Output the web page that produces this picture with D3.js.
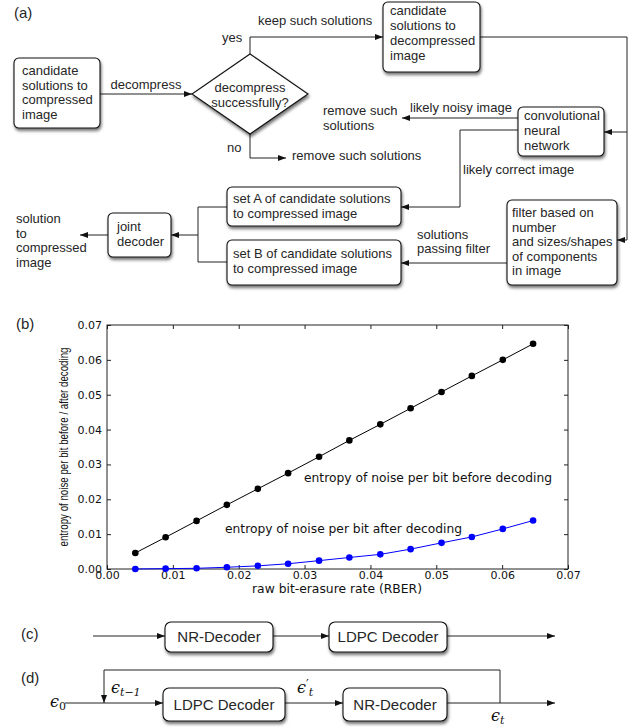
<!DOCTYPE html>
<html><head><meta charset="utf-8">
<script src="https://cdn.jsdelivr.net/npm/d3@7"></script>
<style>
body{margin:0;background:#fff;}
svg{display:block;}
.ft{font-family:"Liberation Sans",Arial,Helvetica,sans-serif;fill:#262626;}
.pt{font-family:"DejaVu Sans",sans-serif;fill:#111;}
</style></head>
<body>
<svg id="c" width="636" height="727"></svg>
<script>
// ---------------- data (panel b) ----------------
const rber = [0.0043,0.0089,0.0136,0.0182,0.0229,0.0275,0.0322,0.0368,0.0415,0.0461,0.0508,0.0554,0.0601,0.0647];
const entropyBefore = [0.0046,0.0091,0.0138,0.0184,0.0230,0.0275,0.0322,0.0369,0.0415,0.0461,0.0508,0.0554,0.0600,0.0646];
const entropyAfter = [0.0000,0.0001,0.0002,0.0005,0.0009,0.0015,0.0024,0.0033,0.0042,0.0057,0.0075,0.0092,0.0115,0.0139];
const xTicks = [0.00,0.01,0.02,0.03,0.04,0.05,0.06,0.07];
const yTicks = [0.00,0.01,0.02,0.03,0.04,0.05,0.06,0.07];
const xLabel = "raw bit-erasure rate (RBER)";
const yLabel = "entropy of noise per bit before / after decoding";
const annBefore = "entropy of noise per bit before decoding";
const annAfter = "entropy of noise per bit after decoding";

// ---------------- flowchart text (panel a) ----------------
const boxesA = [
  {x:14,y:58,w:86,h:70,tx:22,ty:[75,89.5,104,118.5],lines:["candidate","solutions to","compressed","image"]},
  {x:383,y:2,w:97,h:70,tx:390,ty:[15,30,45,60],lines:["candidate","solutions to","decompressed","image"]},
  {x:518,y:107,w:86,h:49,tx:524,ty:[120,135,150],lines:["convolutional","neural","network"]},
  {x:507,y:200,w:110,h:85,tx:512,ty:[217,231.5,246,260.5,275],lines:["filter based on","number","and sizes/shapes","of components","in image"]},
  {x:227,y:187,w:174,h:39,tx:233,ty:[203,218],lines:["set A of candidate solutions","to compressed image"]},
  {x:227,y:240,w:174,h:45,tx:233,ty:[258,273],lines:["set B of candidate solutions","to compressed image"]},
  {x:108,y:213,w:63,h:44,tx:117,ty:[231,246],lines:["joint","decoder"]}
];
const labelsA = [
  {x:14,y:18,t:"(a)",s:15},
  {x:146,y:89,t:"decompress",a:"middle"},
  {x:222,y:42,t:"yes"},
  {x:258,y:25,t:"keep such solutions"},
  {x:227,y:152,t:"no"},
  {x:292,y:160,t:"remove such solutions"},
  {x:323,y:115,t:"remove such"},
  {x:323,y:130,t:"solutions"},
  {x:410,y:112,t:"likely noisy image"},
  {x:463,y:174,t:"likely correct image"},
  {x:417,y:239,t:"solutions"},
  {x:417,y:253,t:"passing filter"},
  {x:16,y:223,t:"solution"},
  {x:16,y:237.5,t:"to"},
  {x:16,y:252,t:"compressed"},
  {x:16,y:266.5,t:"image"},
  {x:250,y:92,t:"decompress",a:"middle"},
  {x:250,y:107,t:"successfully?",a:"middle"},
  {x:16,y:329,t:"(b)",s:15},
  {x:21,y:639,t:"(c)",s:15},
  {x:21,y:683,t:"(d)",s:15}
];
const linksA = [
  {p:[[100,94],[192,94]],arrow:true},
  {p:[[250,54],[250,37],[383,37]],arrow:true},
  {p:[[480,37],[627,37],[627,240],[617,240]],arrow:true},
  {p:[[627,132],[604,132]],arrow:true},
  {p:[[250,134],[250,158],[286,158]],arrow:true},
  {p:[[518,118],[402,118]],arrow:true},
  {p:[[518,130],[460,130],[460,207],[401,207]],arrow:true},
  {p:[[507,263],[401,263]],arrow:true},
  {p:[[227,207],[198,207],[198,262],[227,262]],arrow:false},
  {p:[[198,235],[171,235]],arrow:true},
  {p:[[108,235],[80,235]],arrow:true},
  // panel c
  {p:[[93,636],[165,636]],arrow:true},
  {p:[[273,636],[329,636]],arrow:true},
  {p:[[447,636],[555,636]],arrow:true},
  // panel d
  {p:[[65,703],[163,703]],arrow:true},
  {p:[[500,703],[500,670],[104,670],[104,703]],arrow:true},
  {p:[[285,703],[343,703]],arrow:true},
  {p:[[447,703],[555,703]],arrow:true}
];
const boxesCD = [
  {x:165,y:622,w:108,h:30,t:"NR-Decoder",ty:642},
  {x:329,y:622,w:118,h:30,t:"LDPC Decoder",ty:642},
  {x:163,y:688,w:122,h:33,t:"LDPC Decoder",ty:710},
  {x:343,y:688,w:104,h:33,t:"NR-Decoder",ty:710}
];
const mathLabels = [
  {x:50,y:707,sub:"0",prime:false},
  {x:111,y:693,sub:"t−1",prime:false},
  {x:297,y:693,sub:"t",prime:true},
  {x:491,y:721,sub:"t",prime:false}
];

const svg = d3.select("#c");
const defs = svg.append("defs");
const f = defs.append("filter").attr("id","sh").attr("x","-20%").attr("y","-20%").attr("width","150%").attr("height","160%");
f.append("feDropShadow").attr("dx",1).attr("dy",2.5).attr("stdDeviation",1.6).attr("flood-color","#000").attr("flood-opacity",0.55);
defs.append("marker").attr("id","ar").attr("markerUnits","userSpaceOnUse")
  .attr("markerWidth",9).attr("markerHeight",7).attr("refX",8).attr("refY",3).attr("orient","auto")
  .append("path").attr("d","M0,0 L8,3 L0,6 Z").attr("fill","#111");

// connectors
const line = d3.line();
svg.append("g").selectAll("path").data(linksA).join("path")
  .attr("d",d=>line(d.p)).attr("fill","none").attr("stroke","#222").attr("stroke-width",1)
  .attr("marker-end",d=>d.arrow?"url(#ar)":null);

// diamond
const dc = {x:250,y:94,hw:58,hh:40};
svg.append("path").attr("d",`M${dc.x-dc.hw},${dc.y} L${dc.x},${dc.y-dc.hh} L${dc.x+dc.hw},${dc.y} L${dc.x},${dc.y+dc.hh} Z`)
  .attr("fill","#fff").attr("stroke","#111").attr("stroke-width",1.1).attr("filter","url(#sh)");

// boxes panel a
const gb = svg.append("g").selectAll("g").data(boxesA).join("g");
gb.append("rect").attr("x",d=>d.x).attr("y",d=>d.y).attr("width",d=>d.w).attr("height",d=>d.h)
  .attr("rx",5).attr("fill","#fff").attr("stroke","#111").attr("stroke-width",1.1).attr("filter","url(#sh)");
gb.each(function(d){
  const g=d3.select(this);
  d.lines.forEach((l,i)=>g.append("text").attr("class","ft").attr("x",d.tx).attr("y",d.ty[i]).attr("font-size",13).text(l));
});
svg.append("g").selectAll("text").data(labelsA).join("text").attr("class","ft")
  .attr("x",d=>d.x).attr("y",d=>d.y).attr("font-size",d=>d.s||13).attr("text-anchor",d=>d.a||"start").text(d=>d.t);

// boxes c,d
const gc = svg.append("g").selectAll("g").data(boxesCD).join("g");
gc.append("rect").attr("x",d=>d.x).attr("y",d=>d.y).attr("width",d=>d.w).attr("height",d=>d.h)
  .attr("rx",6).attr("fill","#fff").attr("stroke","#111").attr("stroke-width",1.1).attr("filter","url(#sh)");
gc.append("text").attr("class","ft").attr("x",d=>d.x+d.w/2).attr("y",d=>d.ty).attr("text-anchor","middle")
  .attr("font-size",15).text(d=>d.t);

// math labels (one text element each)
const mt = svg.append("g").selectAll("text").data(mathLabels).join("text")
  .attr("x",d=>d.x).attr("y",d=>d.y).attr("font-family","DejaVu Serif, serif").attr("fill","#111");
mt.append("tspan").attr("font-style","italic").attr("font-size",16).text("ϵ");
mt.each(function(d){
  const t=d3.select(this);
  if(d.prime){
    t.append("tspan").attr("font-size",12).attr("y",d.y-4).text("′");
    t.append("tspan").attr("font-size",11).attr("font-style","italic").attr("y",d.y+3).text(d.sub);
  } else {
    t.append("tspan").attr("font-size",11).attr("font-style",d.sub==="0"?"normal":"italic").attr("y",d.y+3).text(d.sub);
  }
});

// ---------------- panel b plot ----------------
const m = {l:107,r:568,t:325,b:569};
const x = d3.scaleLinear().domain([0,0.07]).range([m.l,m.r]);
const y = d3.scaleLinear().domain([0,0.07]).range([m.b,m.t]);
const fmt = d3.format(".2f");
const pg = svg.append("g");
pg.append("g").attr("transform",`translate(0,${m.b})`)
  .call(d3.axisBottom(x).tickValues(xTicks).tickFormat(fmt).tickSize(-4).tickPadding(2))
  .call(g=>{g.select(".domain").remove();g.selectAll("text").attr("class","pt").attr("font-size",11).attr("fill","#111");});
pg.append("g").attr("transform",`translate(${m.l},0)`)
  .call(d3.axisLeft(y).tickValues(yTicks).tickFormat(fmt).tickSize(-4).tickPadding(5))
  .call(g=>{g.select(".domain").remove();g.selectAll("text").attr("class","pt").attr("font-size",11).attr("fill","#111");});
pg.append("g").attr("transform",`translate(0,${m.t})`)
  .call(d3.axisTop(x).tickValues(xTicks).tickFormat("").tickSize(-4))
  .call(g=>g.select(".domain").remove());
pg.append("g").attr("transform",`translate(${m.r},0)`)
  .call(d3.axisRight(y).tickValues(yTicks).tickFormat("").tickSize(-4))
  .call(g=>g.select(".domain").remove());
pg.selectAll(".tick line").attr("stroke","#222");
pg.append("rect").attr("x",m.l).attr("y",m.t).attr("width",m.r-m.l).attr("height",m.b-m.t)
  .attr("fill","none").attr("stroke","#222").attr("stroke-width",1);

const series = [
  {vals:entropyBefore,color:"#000"},
  {vals:entropyAfter,color:"#0000ff"}
];
const pl = d3.line().x((d,i)=>x(rber[i])).y(d=>y(d));
series.forEach(s=>{
  pg.append("path").attr("d",pl(s.vals)).attr("fill","none").attr("stroke",s.color).attr("stroke-width",1);
  pg.append("g").selectAll("circle").data(s.vals).join("circle")
    .attr("cx",(d,i)=>x(rber[i])).attr("cy",d=>y(d)).attr("r",3.3).attr("fill",s.color);
});
pg.append("text").attr("class","pt").attr("x",304).attr("y",482).attr("font-size",12)
  .attr("textLength",248).attr("lengthAdjust","spacingAndGlyphs").text(annBefore);
pg.append("text").attr("class","pt").attr("x",225).attr("y",533).attr("font-size",12)
  .attr("textLength",237).attr("lengthAdjust","spacingAndGlyphs").text(annAfter);
pg.append("text").attr("class","pt").attr("x",337).attr("y",593).attr("text-anchor","middle").attr("font-size",11.5)
  .attr("textLength",170).attr("lengthAdjust","spacingAndGlyphs").text(xLabel);
pg.append("text").attr("transform","translate(68,447) rotate(-90)").attr("text-anchor","middle")
  .attr("font-family","'Liberation Sans Narrow','Arial Narrow',sans-serif").attr("font-size",12.5).attr("fill","#111")
  .attr("textLength",199).attr("lengthAdjust","spacingAndGlyphs").text(yLabel);
</script>
</body></html>
